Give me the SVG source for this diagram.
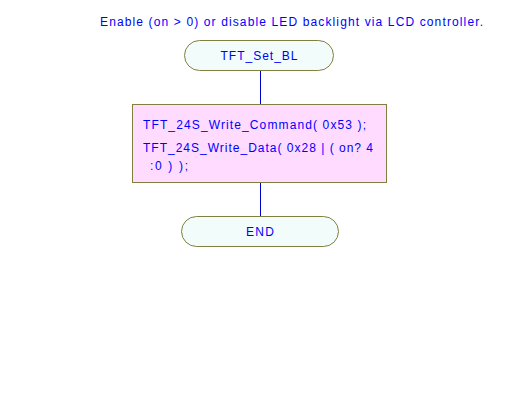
<svg xmlns="http://www.w3.org/2000/svg" width="520" height="416" viewBox="0 0 520 416">
<style>
text{font-family:"Liberation Sans",Arial,sans-serif;font-size:12px;fill:#0000ff}
.term{fill:#f2fcfa;stroke:#808040;stroke-width:1}
.proc{fill:#ffdcff;stroke:#808040;stroke-width:1}
.conn{stroke:#0000cc;stroke-width:1;fill:none}
</style>
<rect width="520" height="416" fill="#ffffff"/>
<text x="100" y="26" textLength="383" lengthAdjust="spacing">Enable (on &gt; 0) or disable LED backlight via LCD controller.</text>
<g id="connectors">
<line class="conn" x1="260.5" y1="70" x2="260.5" y2="104"/>
<line class="conn" x1="260.5" y1="182" x2="260.5" y2="216"/>
</g>
<g id="start">
<rect class="term" x="184.5" y="40.5" width="149" height="30" rx="15" ry="15"/>
<text x="259" y="60" text-anchor="middle" textLength="77" lengthAdjust="spacing">TFT_Set_BL</text>
</g>
<g id="process">
<rect class="proc" x="132.5" y="104.5" width="254" height="78"/>
<text x="143" y="129" textLength="223" lengthAdjust="spacing">TFT_24S_Write_Command( 0x53 );</text>
<text x="143" y="152" textLength="230" lengthAdjust="spacing">TFT_24S_Write_Data( 0x28 | ( on? 4</text>
<text x="150" y="170" textLength="38" lengthAdjust="spacing">:0 ) );</text>
</g>
<g id="end">
<rect class="term" x="181.5" y="216.5" width="157" height="30" rx="15" ry="15"/>
<text x="260" y="236" text-anchor="middle" textLength="28" lengthAdjust="spacing">END</text>
</g>
</svg>
